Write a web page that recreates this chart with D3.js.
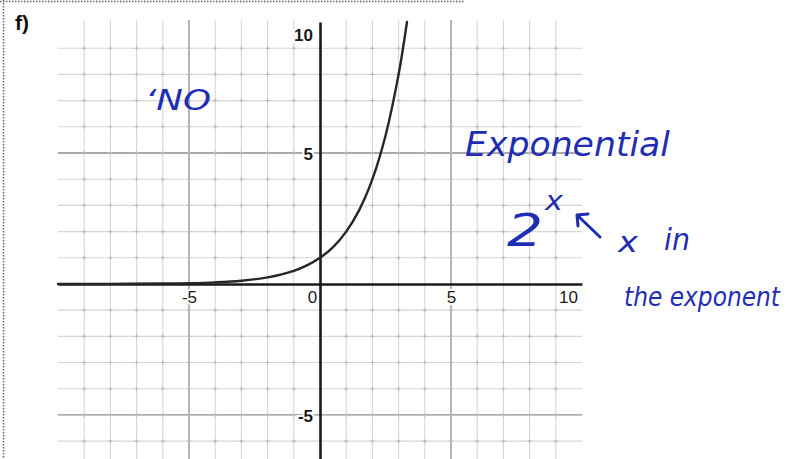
<!DOCTYPE html>
<html>
<head>
<meta charset="utf-8">
<script src="https://cdn.jsdelivr.net/npm/d3@7"></script>
<style>
  html, body { margin: 0; padding: 0; background: #fff; }
  svg { display: block; }
</style>
</head>
<body>
<svg id="chart" width="799" height="459"></svg>
<script>
// Plotted curve y = 2^x, sampled points
const curveX = [-10, -8, -6, -5, -4, -3, -2, -1, -0.5, 0, 0.5, 1, 1.5, 2, 2.5, 3, 3.32];
const curveY = [0.001, 0.004, 0.016, 0.031, 0.063, 0.125, 0.25, 0.5, 0.71, 1, 1.41, 2, 2.83, 4, 5.66, 8, 10];

// Axis tick labels
const xTicks = [-5, 0, 5, 10];
const yTicks = [-5, 5, 10];

// Grid lines (one per unit), majors every 5
const gridX = [-9, -8, -7, -6, -5, -4, -3, -2, -1, 1, 2, 3, 4, 5, 6, 7, 8, 9];
const gridY = [-6, -5, -4, -3, -2, -1, 1, 2, 3, 4, 5, 6, 7, 8, 9];
const majors = [-5, 5];

// Hand-written notes
const notes = [
  { text: "\u02BBNO", x: 145, y: 110, size: 28, len: 66 },
  { text: "Exponential", x: 465, y: 156, size: 34, len: 205 },
  { text: "2", x: 507, y: 246, size: 44, len: 36 },
  { text: "x", x: 545, y: 210, size: 26, len: 18 },
  { text: "x", x: 618, y: 252, size: 28, len: 20 },
  { text: "in", x: 664, y: 250, size: 30, len: 26 },
  { text: "the exponent", x: 624, y: 306, size: 26, len: 156 }
];

const svg = d3.select("#chart");
const ink = "#1f2db4";

const x = d3.scaleLinear().domain([-10, 10]).range([58, 582]);
const y = d3.scaleLinear().domain([-6.7, 10]).range([459.5, 22]);

// dotted frame
svg.append("line").attr("x1", 0).attr("x2", 465).attr("y1", 1.5).attr("y2", 1.5)
  .attr("stroke", "#666").attr("stroke-width", 1.5).attr("stroke-dasharray", "1.5,1.5");
svg.append("line").attr("x1", 3.5).attr("x2", 3.5).attr("y1", 0).attr("y2", 459)
  .attr("stroke", "#666").attr("stroke-width", 1.5).attr("stroke-dasharray", "1.5,1.5");

// part label
svg.append("text").attr("x", 15).attr("y", 30)
  .attr("font-family", "Liberation Sans, Arial, sans-serif")
  .attr("font-size", 21).attr("font-weight", "bold").attr("fill", "#111")
  .text("f)");

// grid
const grid = svg.append("g");
grid.selectAll("line.gx").data(gridX).join("line").attr("class", "gx")
  .attr("x1", d => x(d)).attr("x2", d => x(d))
  .attr("y1", y(10) - 2).attr("y2", y(-6.7))
  .attr("stroke", d => majors.includes(d) ? "#8c8c8c" : "#d6d6d6")
  .attr("stroke-width", d => majors.includes(d) ? 1.3 : 1.1);
grid.selectAll("line.gy").data(gridY).join("line").attr("class", "gy")
  .attr("x1", x(-10)).attr("x2", x(10))
  .attr("y1", d => y(d)).attr("y2", d => y(d))
  .attr("stroke", d => majors.includes(d) ? "#8c8c8c" : "#d6d6d6")
  .attr("stroke-width", d => majors.includes(d) ? 1.3 : 1.1);

// small darker crosses at grid intersections
const pts = [];
gridX.forEach(gx => gridY.forEach(gy => pts.push([gx, gy])));
grid.selectAll("path.cross").data(pts).join("path").attr("class", "cross")
  .attr("d", d => `M${x(d[0]) - 2},${y(d[1])}h4M${x(d[0])},${y(d[1]) - 2}v4`)
  .attr("stroke", "#bcbcbc").attr("stroke-width", 1.1);

// axes
const font = "Liberation Sans, Arial, sans-serif";
const xAxis = svg.append("g").attr("transform", `translate(0,${y(0)})`)
  .call(d3.axisBottom(x).tickValues(xTicks).tickSize(0).tickPadding(7)
    .tickFormat(d => String(d)));
xAxis.select(".domain").attr("stroke", "#1a1a1a").attr("stroke-width", 2.6);
xAxis.selectAll("text")
  .style("font-family", font).style("font-size", "17px").attr("fill", "#1a1a1a")
  .attr("dx", d => d === 0 ? -8 : d === 10 ? -14 : 0)
  .attr("stroke", "#fff").attr("stroke-width", 4).attr("paint-order", "stroke");

const yAxis = svg.append("g").attr("transform", `translate(${x(0)},0)`)
  .call(d3.axisLeft(y).tickValues(yTicks).tickSize(0).tickPadding(7)
    .tickFormat(d => String(d)));
yAxis.select(".domain").attr("stroke", "#1a1a1a").attr("stroke-width", 2.6);
yAxis.selectAll("text")
  .style("font-family", font).style("font-size", "17px").style("font-weight", "bold").attr("fill", "#1a1a1a")
  .attr("dy", d => d === 10 ? "1.1em" : "0.36em")
  .attr("stroke", "#fff").attr("stroke-width", 4).attr("paint-order", "stroke");

// curve
const line = d3.line().x(d => x(d[0])).y(d => y(d[1])).curve(d3.curveCatmullRom.alpha(0.5));
svg.append("path").datum(d3.zip(curveX, curveY))
  .attr("d", line).attr("fill", "none")
  .attr("stroke", "#262626").attr("stroke-width", 2.4).attr("stroke-linecap", "round");

// notes in blue ink
svg.append("g").selectAll("text").data(notes).join("text")
  .attr("x", d => d.x).attr("y", d => d.y)
  .attr("font-family", "DejaVu Sans, sans-serif").attr("font-style", "italic")
  .attr("font-size", d => d.size).attr("fill", ink)
  .attr("textLength", d => d.len).attr("lengthAdjust", "spacingAndGlyphs")
  .text(d => d.text);

// arrow pointing at the exponent
svg.append("path")
  .attr("d", "M600,237L577,215M577,215l1,11M577,215l11,-1")
  .attr("fill", "none").attr("stroke", ink).attr("stroke-width", 3).attr("stroke-linecap", "round");
</script>
</body>
</html>
